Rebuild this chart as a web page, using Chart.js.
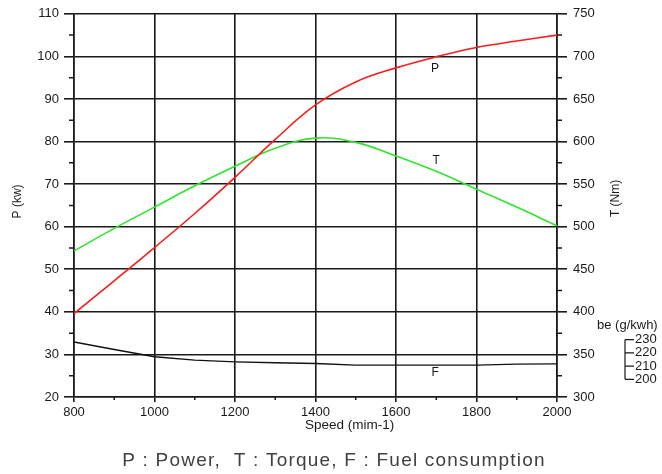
<!DOCTYPE html>
<html>
<head>
<meta charset="utf-8">
<script src="https://cdn.jsdelivr.net/npm/chart.js@4.4.0/dist/chart.umd.min.js"></script>
<style>
html, body { margin: 0; padding: 0; background: #fff; }
#wrap { width: 662px; height: 474px; }
</style>
</head>
<body>
<div id="wrap"><canvas id="engineChart" width="662" height="474"></canvas></div>
<script>
// engine speed (mim-1)
const speeds = [800, 900, 1000, 1100, 1200, 1300, 1400, 1500, 1600, 1700, 1800, 1900, 2000];
// P : power (kw), left axis
const powerKw = [39.6, 47.3, 55.1, 63.1, 71.6, 80.5, 88.6, 94.0, 97.3, 99.9, 102.1, 103.6, 105.0];
// T : torque (Nm), right axis
const torqueNm = [471.5, 498, 523, 548, 571, 592, 604, 599, 583, 565, 544, 523, 501];
// F : fuel consumption be (g/kwh)
const fuelBe = [228.2, 222.5, 217.0, 214.5, 213.2, 212.5, 212.0, 210.7, 210.7, 210.7, 210.7, 211.5, 211.7];

const powerTicksMinor = [25, 35, 45, 55, 65, 75, 85, 95, 105];
const torqueTicksMinor = [325, 375, 425, 475, 525, 575, 625, 675, 725];
const speedTicksMinor = [900, 1100, 1300, 1500, 1700, 1900];
const beTicks = [230, 220, 210, 200];

const INK = '#1a1a1a';
const FONT = '"Liberation Sans", Arial, sans-serif';

// extra bits: minor ticks, titles, curve labels, be scale, caption
const extras = {
    id: 'extras',
    afterDraw(chart) {
        const { ctx, chartArea: a, scales } = chart;
        const x = scales.x, y = scales.y, y1 = scales.y1, be = scales.be;
        ctx.save();
        ctx.strokeStyle = INK;
        ctx.lineWidth = 1.5;
        ctx.beginPath();
        speedTicksMinor.forEach(v => {
            const px = x.getPixelForValue(v);
            ctx.moveTo(px, a.bottom); ctx.lineTo(px, a.bottom + 3);
        });
        powerTicksMinor.forEach(v => {
            const py = y.getPixelForValue(v);
            ctx.moveTo(a.left - 5, py); ctx.lineTo(a.left, py);
        });
        torqueTicksMinor.forEach(v => {
            const py = y1.getPixelForValue(v);
            ctx.moveTo(a.right, py); ctx.lineTo(a.right + 5, py);
        });
        ctx.stroke();

        // be (g/kwh) bracket scale
        const bx = a.right + 68;
        ctx.lineWidth = 1.2;
        ctx.beginPath();
        ctx.moveTo(bx, be.getPixelForValue(230));
        ctx.lineTo(bx, be.getPixelForValue(200));
        beTicks.forEach(v => {
            const py = be.getPixelForValue(v);
            ctx.moveTo(bx, py); ctx.lineTo(bx + 9, py);
        });
        ctx.stroke();
        ctx.fillStyle = INK;
        ctx.font = '13px ' + FONT;
        ctx.textAlign = 'left';
        ctx.textBaseline = 'middle';
        beTicks.forEach(v => ctx.fillText(String(v), bx + 10, be.getPixelForValue(v)));
        ctx.fillText('be (g/kwh)', a.right + 40, be.getPixelForValue(241));

        // axis titles
        ctx.font = '12px ' + FONT;
        ctx.textAlign = 'center';
        ctx.save();
        ctx.translate(18, (a.top + a.bottom) / 2 - 4);
        ctx.rotate(-Math.PI / 2);
        ctx.fillText('P (kw)', 0, 0);
        ctx.restore();
        ctx.save();
        ctx.translate(a.right + 59, (a.top + a.bottom) / 2 - 7);
        ctx.rotate(-Math.PI / 2);
        ctx.fillText('T (Nm)', 0, 0);
        ctx.restore();
        ctx.font = '13.5px ' + FONT;
        ctx.fillText('Speed (mim-1)', x.getPixelForValue(1485), a.bottom + 28);

        // curve labels
        ctx.font = '12px ' + FONT;
        ctx.fillText('P', x.getPixelForValue(1697), y.getPixelForValue(97.1));
        ctx.fillText('T', x.getPixelForValue(1700), y1.getPixelForValue(577));
        ctx.fillText('F', x.getPixelForValue(1697), be.getPixelForValue(204.7));

        // caption
        ctx.fillStyle = '#404040';
        ctx.font = '19px ' + FONT;
        ctx.letterSpacing = '1.2px';
        ctx.fillText('P : Power,  T : Torque, F : Fuel consumption', 334, 461);
        ctx.restore();
    }
};

new Chart(document.getElementById('engineChart'), {
    type: 'line',
    data: {
        labels: speeds,
        datasets: [
            { label: 'P', data: powerKw, yAxisID: 'y', borderColor: '#ff1a1a', borderWidth: 1.6 },
            { label: 'T', data: torqueNm, yAxisID: 'y1', borderColor: '#2ee52e', borderWidth: 1.6 },
            { label: 'F', data: fuelBe, yAxisID: 'be', borderColor: '#111', borderWidth: 1.4, tension: 0 }
        ]
    },
    options: {
        responsive: false,
        animation: false,
        devicePixelRatio: 1,
        layout: { padding: { top: 12, left: 0, right: 0, bottom: 0 } },
        elements: {
            point: { radius: 0 },
            line: { tension: 0.4, fill: false }
        },
        plugins: { legend: { display: false }, tooltip: { enabled: false } },
        scales: {
            x: {
                type: 'linear', min: 800, max: 2000,
                afterFit: s => { s.height = 77; },
                ticks: { stepSize: 200, color: INK, padding: 3, font: { family: FONT, size: 13 }, callback: v => String(v), maxRotation: 0 },
                grid: { color: INK, lineWidth: 1.6, tickLength: 5 },
                border: { color: INK, width: 1.6 }
            },
            y: {
                position: 'left', min: 20, max: 110,
                afterFit: s => { s.width = 74; },
                ticks: { stepSize: 10, color: INK, padding: 5, font: { family: FONT, size: 13 } },
                grid: { color: INK, lineWidth: 1.6, tickLength: 10 },
                border: { color: INK, width: 1.6 }
            },
            y1: {
                position: 'right', min: 300, max: 750,
                afterFit: s => { s.width = 105; },
                ticks: { stepSize: 50, color: INK, padding: 6, font: { family: FONT, size: 13 } },
                grid: { drawOnChartArea: false, color: INK, lineWidth: 1.6, tickLength: 10 },
                border: { color: INK, width: 1.6 }
            },
            be: {
                display: false, min: 186.7, max: 475.5
            }
        }
    },
    plugins: [extras]
});
</script>
</body>
</html>
